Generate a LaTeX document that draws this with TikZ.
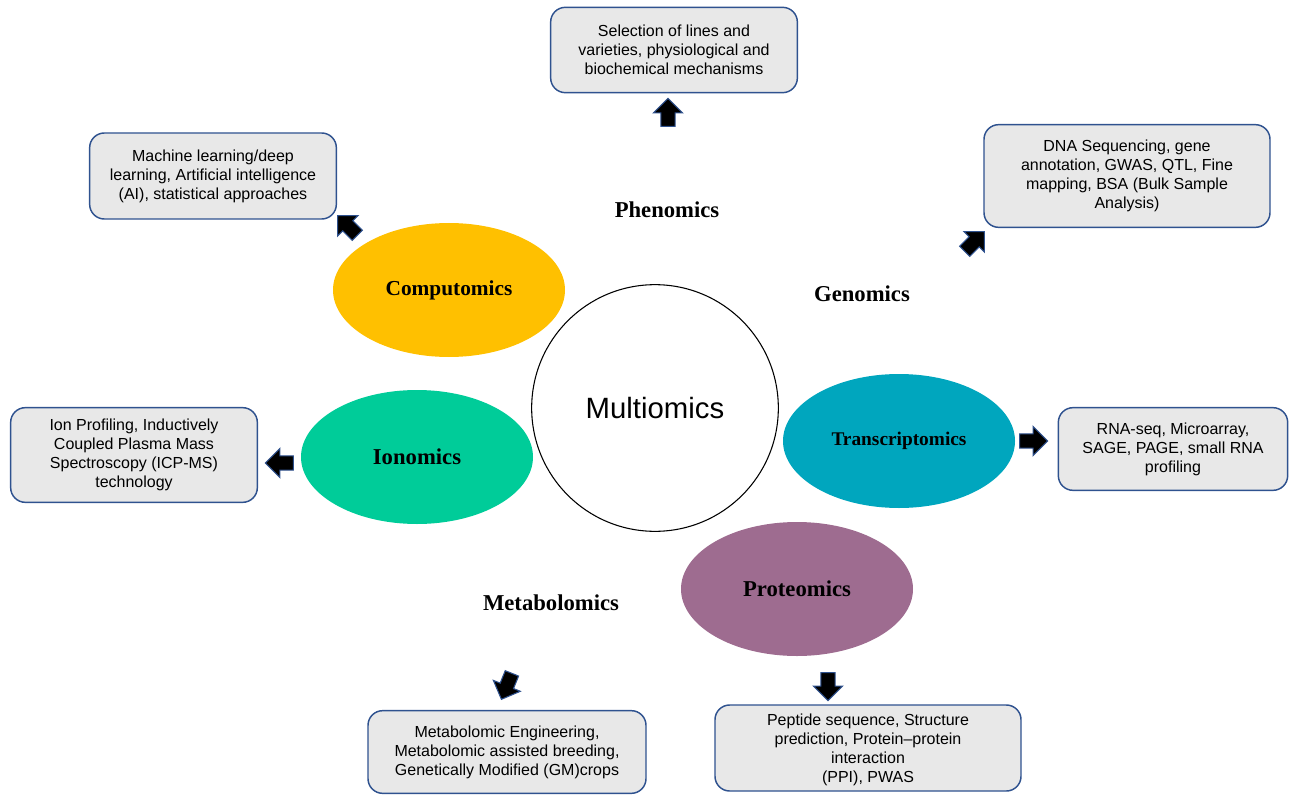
\documentclass[tikz,border=0pt]{standalone}
\usepackage{fontspec}
\setmainfont{Liberation Serif}
\newfontfamily\boxfont{Liberation Sans}
\usetikzlibrary{shapes.geometric,shapes.arrows}

\definecolor{compcol}{RGB}{255,192,0}
\definecolor{ioncol}{RGB}{0,204,153}
\definecolor{transcol}{RGB}{0,166,190}
\definecolor{protcol}{RGB}{158,108,144}
\definecolor{boxfill}{RGB}{232,232,232}
\definecolor{boxline}{RGB}{47,82,143}

\begin{document}
\begin{tikzpicture}[x=0.75pt, y=-0.75pt,
            info/.style={rectangle, draw=boxline, line width=1.1pt, rounded corners=11pt, fill=boxfill, align=center, inner sep=2pt, font=\boxfont\fontsize{12}{14.25}\selectfont},
            omic/.style={ellipse, minimum width=174pt, minimum height=100.5pt, inner sep=0pt, font=\bfseries\fontsize{17}{20}\selectfont},
            label/.style={font=\bfseries\fontsize{17}{20}\selectfont},
            blockarrow/.style={single arrow, draw=boxline, line width=0.8pt, fill=black, minimum height=21pt, minimum width=21pt, inner sep=5pt, single arrow head extend=5.5pt, single arrow head indent=0pt}
            ]
            \useasboundingbox (0,0) rectangle (1289,795);

            % Omics ellipses
            \node[omic, fill=compcol] (comp) at (449,290) {\fontsize{16}{19}\selectfont Computomics};
            \node[omic, fill=ioncol] (ion) at (417,457) {Ionomics};
            \node[omic, fill=transcol] (trans) at (899,441) {\fontsize{14.5}{17}\selectfont Transcriptomics};
            \node[omic, fill=protcol] (prot) at (797,589) {Proteomics};

            % Central circle
            \node[circle, draw, fill=white, thick, minimum size=185pt, font=\boxfont\fontsize{22}{26}\selectfont] (multi) at (655,408) {Multiomics};

            % Plain labels
            \node[label] (pheno) at (667,210) {Phenomics};
            \node[label] (geno) at (862,294) {Genomics};
            \node[label] (meta) at (551,603) {Metabolomics};

            % Description boxes
            \node[info, minimum width=185pt, minimum height=64pt] (phenobox) at (674,50) {Selection of lines and\\varieties, physiological and\\biochemical mechanisms};
            \node[info, minimum width=185pt, minimum height=64.5pt] (compbox) at (213,176) {Machine learning/deep\\learning, Artificial intelligence\\(AI), statistical approaches};
            \node[info, minimum width=214.5pt, minimum height=77pt] (genobox) at (1127,176) {DNA Sequencing, gene\\annotation, GWAS, QTL, Fine\\mapping, BSA (Bulk Sample\\Analysis)};
            \node[info, minimum width=185pt, minimum height=71pt] (ionbox) at (134,455) {Ion Profiling, Inductively\\Coupled Plasma Mass\\Spectroscopy (ICP-MS)\\technology};
            \node[info, minimum width=172pt, minimum height=62pt] (transbox) at (1173,449) {RNA-seq, Microarray,\\SAGE, PAGE, small RNA\\profiling};
            \node[info, minimum width=208.5pt, minimum height=62pt] (metabox) at (507,752) {Metabolomic Engineering,\\Metabolomic assisted breeding,\\Genetically Modified (GM)crops};
            \node[info, minimum width=229.5pt, minimum height=64.5pt, text depth=-4pt] (protbox) at (868,748) {Peptide sequence, Structure\\prediction, Protein–protein\\interaction\\(PPI), PWAS};

            % Block arrows
            \node[blockarrow, rotate=90] (phenoarr) at (668,116) {};
            \node[blockarrow, rotate=135] (comparr) at (350,228) {};
            \node[blockarrow, rotate=45] (genoarr) at (972,244) {};
            \node[blockarrow, rotate=180] (ionarr) at (283,463) {};
            \node[blockarrow, rotate=0] (transarr) at (1030,441) {};
            \node[blockarrow, rotate=248] (metaarr) at (508,683) {};
            \node[blockarrow, rotate=270] (protarr) at (828,683) {};

        \end{tikzpicture}
\end{document}
